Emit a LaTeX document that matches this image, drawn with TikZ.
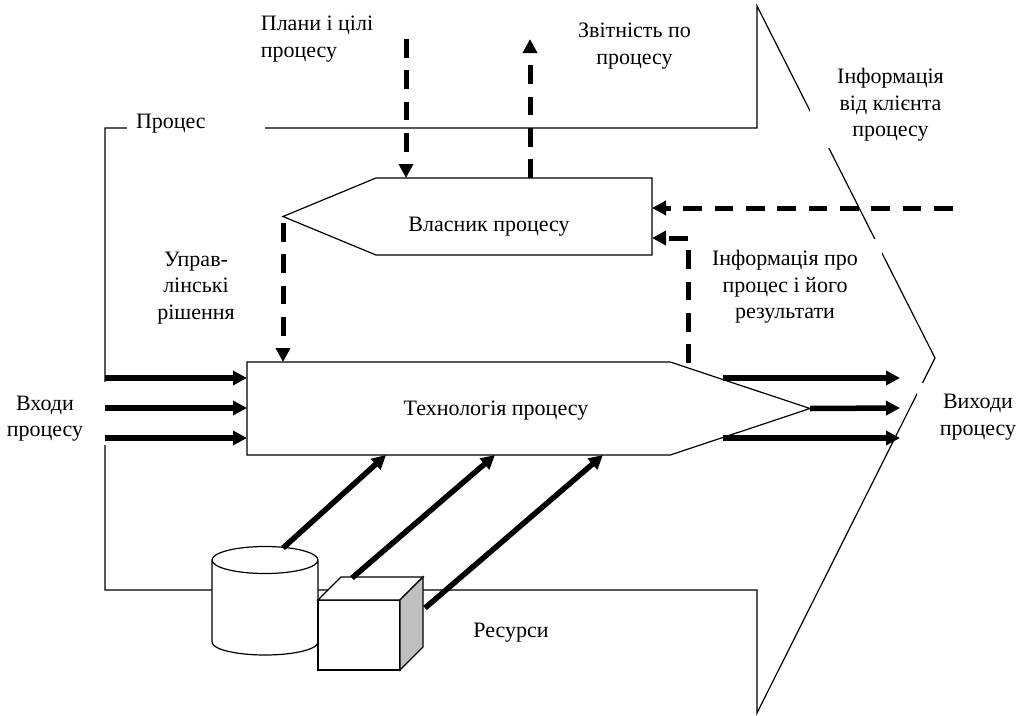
\documentclass[tikz,border=0pt]{standalone}
\usepackage{fontspec}
\setmainfont{Liberation Serif}
\usetikzlibrary{arrows.meta,shapes.symbols}
\begin{document}
\begin{tikzpicture}[x=1pt,y=-1pt,line width=1.2pt,font=\fontsize{22}{26.5}\selectfont,
        text node/.style={align=center,inner sep=0pt},
        gap node/.style={text node,fill=white,minimum width=#1},
        main node/.style={draw,fill=white,signal,inner sep=0pt,outer sep=0pt},
        flow/.style={line width=5.5pt,-{Triangle[length=14pt,width=14pt]}},
        control/.style={flow,line width=5pt,dash pattern=on 18.7pt off 12.6pt}]
                \useasboundingbox (0,0) rectangle (1024,715);
                \draw (105,128) -- (757,128) -- (757,6) -- (935,358) -- (757,713) -- (757,590) -- (105,590) -- cycle;

                \node[gap node=138pt,text width=138pt,align=left,minimum height=30pt] (process) at (196,124) {\hspace*{9pt}Процес};
                \node[gap node=161pt,minimum height=86pt] (clientinfo) at (890.5,105) {Інформація\\від клієнта\\процесу};
                \node[gap node=194pt,minimum height=96pt] (feedback) at (785,287) {Інформація про\\процес і його\\результати};
                \node[gap node=122pt,minimum height=68pt] (outputs) at (978,417) {Виходи\\процесу};
                \node[gap node=124pt,minimum height=63pt] (inputs gap) at (45,413.5) {};
                \node[text node] (inputs) at (45,418.5) {Входи\\процесу};

                \node[text node,align=left] (plans) at (317,39) {Плани і цілі\\процесу};
                \node[text node] (report) at (634.5,46) {Звітність по\\процесу};
                \node[text node] (decisions) at (196,288) {Управ-\\лінські\\рішення};
                \node[text node] (resources) at (511,633) {Ресурси};

                \node[main node,signal to=west,signal pointer angle=45,minimum width=369pt,minimum height=77pt,anchor=west] (owner) at (283,216.5) {};
                \node[main node,signal to=east,signal pointer angle=36.8,minimum width=563pt,minimum height=93pt,anchor=east] (tech) at (810,408.5) {};
                \node[text node] (ownertext) at (489,227) {Власник процесу};
                \node[text node] (techtext) at (496,411) {Технологія процесу};

                \draw[fill=white] (212,560) -- (212,642) arc[start angle=180,end angle=360,x radius=53pt,y radius=13pt] -- (318,560) arc[start angle=0,end angle=180,x radius=53pt,y radius=13.5pt] arc[start angle=180,end angle=360,x radius=53pt,y radius=13.5pt];
                \node[draw,fill=white,minimum width=82pt,minimum height=70pt,inner sep=0pt,outer sep=0pt] (cube) at (359,635) {};
                \draw[fill=white] (cube.north west) -- ++(23,-23) -- ++(82,0) -- (cube.north east) -- cycle;
                \draw[fill=black!25] (cube.north east) -- ++(23,-23) -- ++(0,70) -- (cube.south east) -- cycle;

                \coordinate (plans end) at (406,39);
                \coordinate (plans in) at (406,178);
                \coordinate (report out) at (530,178);
                \coordinate (report end) at (530,39);
                \coordinate (client end) at (952.5,208);
                \coordinate (bend) at (688,238);
                \coordinate (feedback out) at (688,363);
                \coordinate (owner tip) at (283,223);
                \coordinate (tech in) at (283,362);
                \coordinate (store out) at (283,548);
                \coordinate (cube top) at (352,578);
                \coordinate (cube side) at (425,608);

                \draw[control] (plans end) -- (plans in);
                \draw[control] (report out) -- (report end);
                \draw[control] (client end) -- (652,208);
                \draw[control] (feedback out) -- (bend) -- (652,238);
                \draw[control] (owner tip) -- (tech in);

                \draw[flow] (105,378) -- (247,378);
                \draw[flow] (105,408) -- (247,408);
                \draw[flow] (105,438) -- (247,438);
                \draw[flow] (723,378) -- (900,378);
                \draw[flow] (tech.east) -- (900,408);
                \draw[flow] (723,438) -- (900,438);
                \draw[flow] (store out) -- (386,455);
                \draw[flow] (cube top) -- (495,455);
                \draw[flow] (cube side) -- (603,455);
            \end{tikzpicture}
\end{document}
